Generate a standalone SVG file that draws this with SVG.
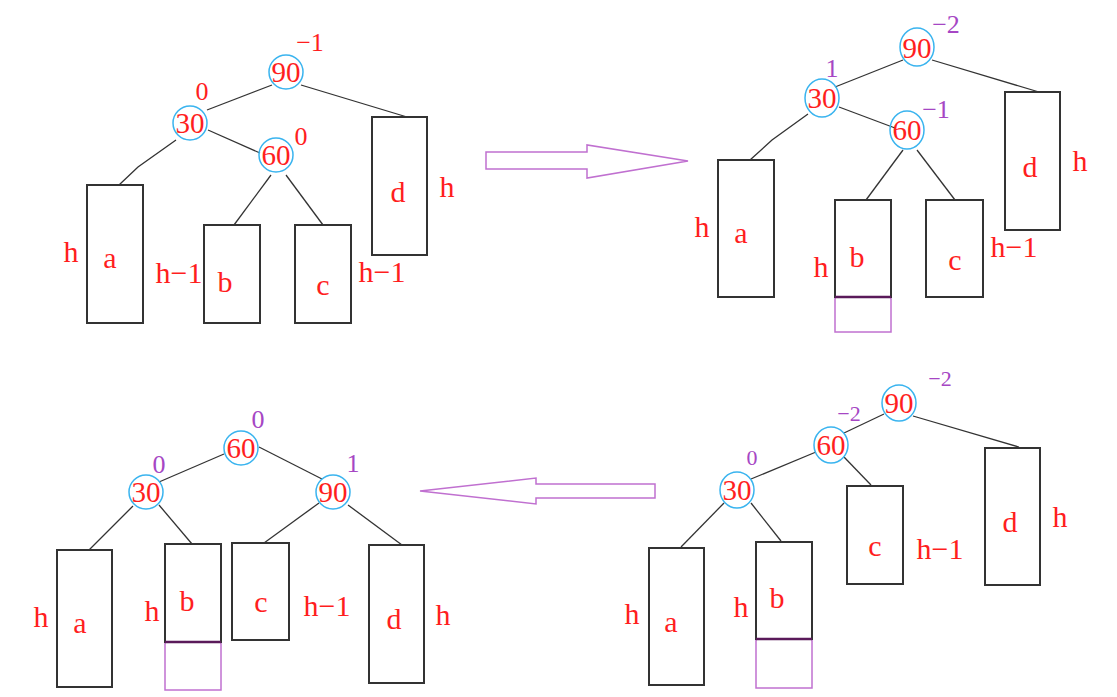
<svg xmlns="http://www.w3.org/2000/svg" width="1117" height="697" viewBox="0 0 1117 697">
<style>
.t{font-family:"Liberation Serif","DejaVu Serif",serif;fill:#ff1e1e;text-anchor:middle}
.n{font-size:29px}
.l{font-size:30px}
.bf{font-size:26px}
.pu{fill:#a646c4}
.sm{font-size:22px}
.c{fill:none;stroke:#3ab4ef;stroke-width:1.5}
.box{fill:none;stroke:#333;stroke-width:2}
.ext{fill:none;stroke:#c070d0;stroke-width:1.5}
.sep{stroke:#5a1a5a;stroke-width:2.5}
.edge{stroke:#333;stroke-width:1.3;fill:none}
.arrow{fill:none;stroke:#c070d0;stroke-width:1.5}
</style>
<rect width="1117" height="697" fill="#fff"/>

<!-- Panel 1 -->
<g id="connectors-1">
<path class="edge" d="M272,85 L207,110"/>
<path class="edge" d="M301,85 L407,117"/>
<path class="edge" d="M208,130 L260,153"/>
<path class="edge" d="M176,140 L138,167 L119,185"/>
<path class="edge" d="M271,175 L234,225"/>
<path class="edge" d="M286,175 L323,225"/>
</g>
<g id="p1-n90"><circle class="c" cx="286" cy="72" r="17"/><text class="t n" x="286" y="82">90</text><text class="t bf" x="310" y="51">−1</text></g>
<g id="p1-n30"><circle class="c" cx="190" cy="123" r="17"/><text class="t n" x="190" y="133">30</text><text class="t bf" x="202" y="100">0</text></g>
<g id="p1-n60"><circle class="c" cx="276" cy="155" r="17"/><text class="t n" x="276" y="165">60</text><text class="t bf" x="301" y="145">0</text></g>
<g id="p1-a"><rect class="box" x="87" y="185" width="56" height="138"/><text class="t l" x="110" y="268">a</text><text class="t l" x="71" y="262">h</text></g>
<g id="p1-b"><rect class="box" x="204" y="225" width="56" height="98"/><text class="t l" x="225" y="292">b</text><text class="t l" x="179" y="283">h−1</text></g>
<g id="p1-c"><rect class="box" x="295" y="225" width="56" height="98"/><text class="t l" x="323" y="295">c</text><text class="t l" x="382" y="282">h−1</text></g>
<g id="p1-d"><rect class="box" x="372" y="117" width="55" height="138"/><text class="t l" x="398" y="202">d</text><text class="t l" x="447" y="197">h</text></g>

<!-- Arrow right -->
<g id="arrow-right"><polygon class="arrow" points="486,152 587,152 587,145 688,161 587,178 587,169 486,169"/></g>

<!-- Panel 2 -->
<g id="connectors-2">
<path class="edge" d="M903,60 L835,87"/>
<path class="edge" d="M932,60 L1039,92"/>
<path class="edge" d="M839,107 L895,128"/>
<path class="edge" d="M808,114 L772,140 L750,160"/>
<path class="edge" d="M903,150 L866,200"/>
<path class="edge" d="M917,150 L955,200"/>
</g>
<g id="p2-n90"><ellipse class="c" cx="917" cy="47" rx="17" ry="19"/><text class="t n" x="917" y="58">90</text><text class="t bf pu" x="946" y="33">−2</text></g>
<g id="p2-n30"><ellipse class="c" cx="822" cy="98" rx="17" ry="19"/><text class="t n" x="822" y="108">30</text><text class="t bf pu" x="832" y="77">1</text></g>
<g id="p2-n60"><ellipse class="c" cx="907" cy="130" rx="17" ry="19"/><text class="t n" x="907" y="140">60</text><text class="t bf pu" x="936" y="118">−1</text></g>
<g id="p2-a"><rect class="box" x="718" y="160" width="56" height="137"/><text class="t l" x="741" y="243">a</text><text class="t l" x="702" y="237">h</text></g>
<g id="p2-b"><rect class="ext" x="835" y="297" width="56" height="35"/><rect class="box" x="835" y="200" width="56" height="97"/><line class="sep" x1="835" y1="297" x2="891" y2="297"/><text class="t l" x="857" y="267">b</text><text class="t l" x="821" y="277">h</text></g>
<g id="p2-c"><rect class="box" x="926" y="200" width="57" height="97"/><text class="t l" x="955" y="270">c</text><text class="t l" x="1014" y="257">h−1</text></g>
<g id="p2-d"><rect class="box" x="1005" y="92" width="55" height="138"/><text class="t l" x="1030" y="177">d</text><text class="t l" x="1080" y="171">h</text></g>

<!-- Panel 3 -->
<g id="connectors-3">
<path class="edge" d="M224,454 L159,482"/>
<path class="edge" d="M259,447 L322,479"/>
<path class="edge" d="M133,506 L89,550"/>
<path class="edge" d="M159,505 L192,544"/>
<path class="edge" d="M319,503 L264,543"/>
<path class="edge" d="M348,505 L402,545"/>
</g>
<g id="p3-n60"><circle class="c" cx="241" cy="448" r="17"/><text class="t n" x="241" y="458">60</text><text class="t bf pu" x="258" y="428">0</text></g>
<g id="p3-n30"><circle class="c" cx="146" cy="492" r="17"/><text class="t n" x="146" y="502">30</text><text class="t bf pu" x="159" y="473">0</text></g>
<g id="p3-n90"><circle class="c" cx="333" cy="492" r="17"/><text class="t n" x="333" y="502">90</text><text class="t bf pu" x="353" y="472">1</text></g>
<g id="p3-a"><rect class="box" x="57" y="550" width="55" height="137"/><text class="t l" x="80" y="633">a</text><text class="t l" x="41" y="627">h</text></g>
<g id="p3-b"><rect class="ext" x="165" y="642" width="56" height="48"/><rect class="box" x="165" y="544" width="56" height="98"/><line class="sep" x1="165" y1="642" x2="221" y2="642"/><text class="t l" x="187" y="611">b</text><text class="t l" x="152" y="621">h</text></g>
<g id="p3-c"><rect class="box" x="232" y="543" width="57" height="97"/><text class="t l" x="261" y="612">c</text><text class="t l" x="327" y="616">h−1</text></g>
<g id="p3-d"><rect class="box" x="369" y="545" width="55" height="138"/><text class="t l" x="394" y="629">d</text><text class="t l" x="443" y="625">h</text></g>

<!-- Arrow left -->
<g id="arrow-left"><polygon class="arrow" points="655,484 536,484 536,478 420,491 536,504 536,498 655,498"/></g>

<!-- Panel 4 -->
<g id="connectors-4">
<path class="edge" d="M884,414 L844,433"/>
<path class="edge" d="M913,416 L1019,447"/>
<path class="edge" d="M816,452 L751,479"/>
<path class="edge" d="M844,457 L871,485"/>
<path class="edge" d="M724,503 L681,547"/>
<path class="edge" d="M751,503 L781,541"/>
</g>
<g id="p4-n90"><ellipse class="c" cx="899" cy="403" rx="17" ry="18"/><text class="t n" x="899" y="413">90</text><text class="t bf pu sm" x="940" y="386">−2</text></g>
<g id="p4-n60"><ellipse class="c" cx="831" cy="445" rx="17" ry="18"/><text class="t n" x="831" y="455">60</text><text class="t bf pu sm" x="849" y="421">−2</text></g>
<g id="p4-n30"><ellipse class="c" cx="737" cy="490" rx="17" ry="18"/><text class="t n" x="737" y="500">30</text><text class="t bf pu sm" x="752" y="465">0</text></g>
<g id="p4-a"><rect class="box" x="649" y="548" width="55" height="137"/><text class="t l" x="671" y="632">a</text><text class="t l" x="632" y="624">h</text></g>
<g id="p4-b"><rect class="ext" x="756" y="639" width="56" height="49"/><rect class="box" x="756" y="542" width="56" height="97"/><line class="sep" x1="756" y1="639" x2="812" y2="639"/><text class="t l" x="777" y="608">b</text><text class="t l" x="741" y="617">h</text></g>
<g id="p4-c"><rect class="box" x="847" y="486" width="56" height="98"/><text class="t l" x="875" y="556">c</text><text class="t l" x="940" y="559">h−1</text></g>
<g id="p4-d"><rect class="box" x="985" y="448" width="55" height="137"/><text class="t l" x="1010" y="532">d</text><text class="t l" x="1060" y="527">h</text></g>
</svg>
